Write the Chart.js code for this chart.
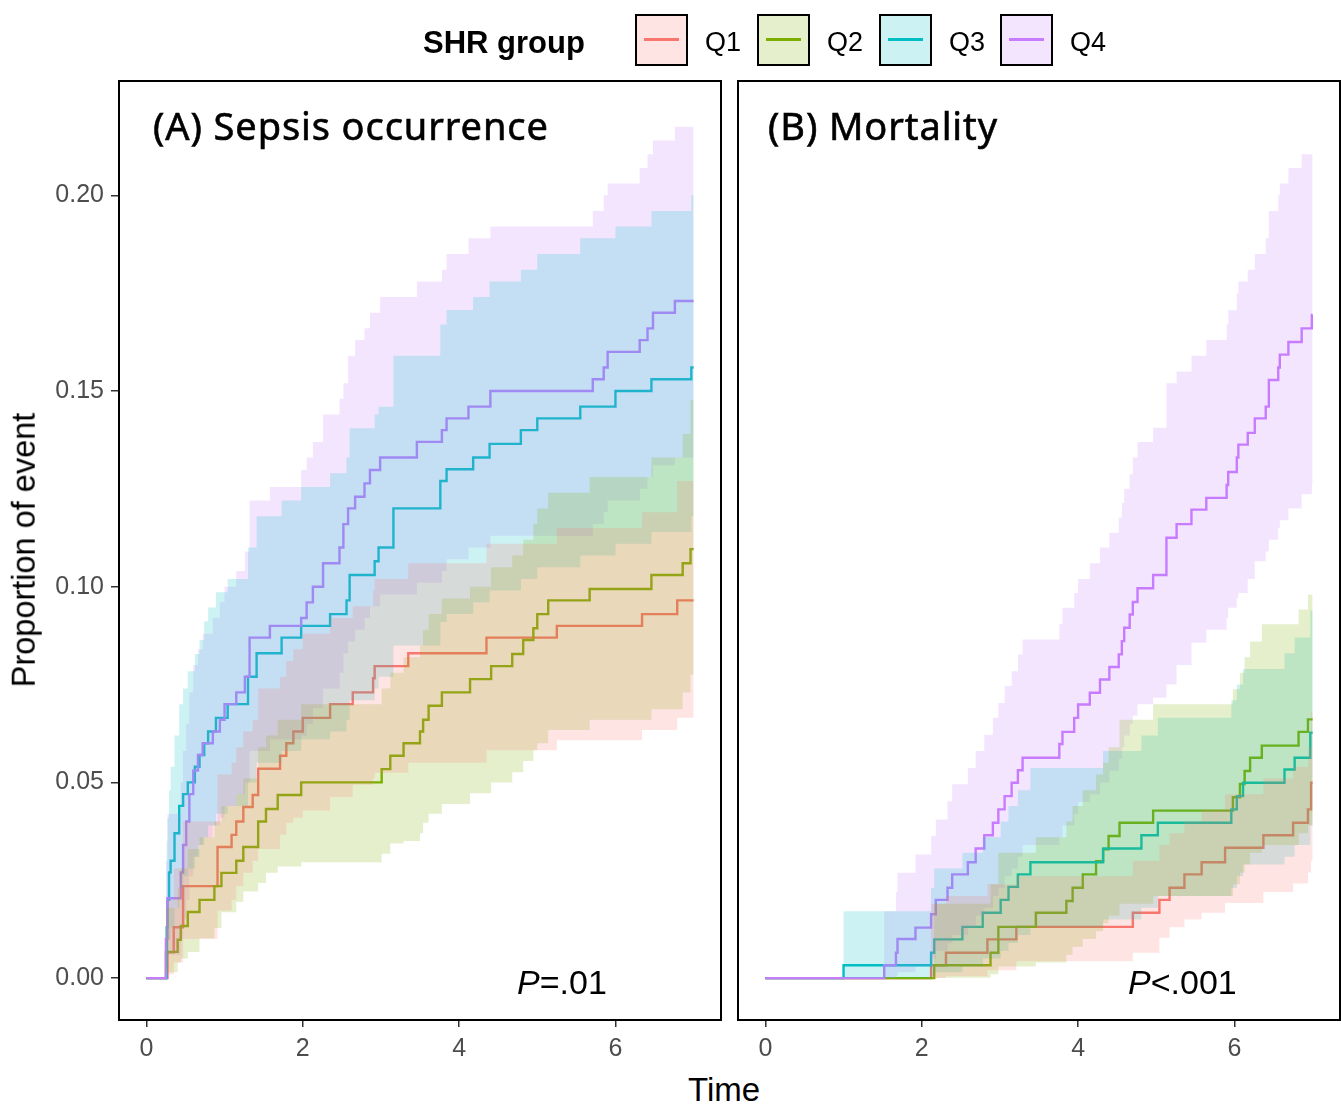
<!DOCTYPE html>
<html>
<head>
<meta charset="utf-8">
<script src="https://cdn.jsdelivr.net/npm/chart.js@4.4.1/dist/chart.umd.min.js"></script>
<style>
  body { margin: 0; background: #fff; width: 1341px; height: 1106px; position: relative; overflow: hidden;
         font-family: 'Liberation Sans', Arial, sans-serif; }
  canvas { position: absolute; }
  .txt { position: absolute; white-space: nowrap; line-height: 1; color: #000; }
  .title { font-family: 'Noto Sans', sans-serif; font-size: 38px; letter-spacing: 0.9px; -webkit-text-stroke: 0.6px #000; }
  .pval { font-size: 34px; }
  .key { position: absolute; top: 14px; width: 49px; height: 48px; border: 2.5px solid #000; }
  .key span { position: absolute; left: 7px; right: 7px; top: 22px; height: 3px; }
  .qlab { font-size: 27px; top: 29px; }
</style>
</head>
<body>

<canvas id="sepsisChart" width="723" height="1070" style="left:0;top:0"></canvas>
<canvas id="mortalityChart" width="618" height="1070" style="left:723px;top:0"></canvas>

<div class="txt" style="left:423px;top:27px;font-size:31px;font-weight:bold">SHR group</div>
<div class="key" style="left:635px;background:rgba(248,118,109,0.2)"><span style="background:#F8766D"></span></div>
<div class="txt qlab" style="left:705px">Q1</div>
<div class="key" style="left:757px;background:rgba(124,174,0,0.2)"><span style="background:#7CAE00"></span></div>
<div class="txt qlab" style="left:827px">Q2</div>
<div class="key" style="left:879px;background:rgba(0,191,196,0.2)"><span style="background:#00BFC4"></span></div>
<div class="txt qlab" style="left:949px">Q3</div>
<div class="key" style="left:1000px;background:rgba(199,124,255,0.2)"><span style="background:#C77CFF"></span></div>
<div class="txt qlab" style="left:1070px">Q4</div>

<div class="txt title" style="left:153px;top:106px">(A) Sepsis occurrence</div>
<div class="txt title" style="left:768px;top:106px">(B) Mortality</div>
<div class="txt pval" style="left:517px;top:965px"><i>P</i>=.01</div>
<div class="txt pval" style="left:1128px;top:965px"><i>P</i>&lt;.001</div>
<div class="txt" style="left:688px;top:1073px;font-size:33px">Time</div>
<div class="txt" style="left:24px;top:550px;font-size:32.5px;transform:translate(-50%,-50%) rotate(-90deg)">Proportion of event</div>

<script>
// tick positions / labels
const xTickValues = [0, 2, 4, 6];
const yTickValues = [0, 5, 10, 15, 20]; // percent
const yTickLabels = ['0.00', '0.05', '0.10', '0.15', '0.20'];
const endTime = 7;

const groupColors = ['#F8766D', '#7CAE00', '#00BFC4', '#C77CFF'];
const groupFills = ['rgba(248,118,109,0.2)', 'rgba(124,174,0,0.2)', 'rgba(0,191,196,0.2)', 'rgba(199,124,255,0.2)'];

// (A) Sepsis occurrence -- event times and cumulative proportion (%) with CI
const sepsisQ1Time = [0, 0.27, 0.35, 0.47, 0.91, 1.09, 1.15, 1.24, 1.36, 1.43, 1.71, 1.79, 1.88, 2.00, 2.35, 2.64, 2.90, 2.92, 3.35, 4.35, 5.25, 6.34, 6.79];
const sepsisQ1Pct  = [0, 0.66, 1.3, 2.35, 3.35, 3.66, 4.0, 4.37, 4.68, 5.35, 5.68, 6.0, 6.3, 6.65, 7.0, 7.3, 7.66, 7.97, 8.3, 8.7, 9.0, 9.3, 9.65];
const sepsisQ1Low  = [0, 0.1, 0.4, 1.0, 1.73, 2.0, 2.35, 2.69, 3.0, 3.3, 3.66, 3.97, 4.1, 4.28, 4.63, 4.94, 5.1, 5.25, 5.5, 5.82, 6.08, 6.34, 6.65];
const sepsisQ1High = [0, 2.0, 2.8, 4.0, 5.2, 5.5, 5.9, 6.3, 6.6, 7.4, 7.7, 8.1, 8.4, 8.8, 9.2, 9.5, 9.9, 10.2, 10.6, 11.1, 11.5, 11.9, 12.7];

const sepsisQ2Time = [0, 0.25, 0.40, 0.44, 0.53, 0.68, 0.87, 0.96, 1.15, 1.24, 1.43, 1.53, 1.68, 1.98, 3.01, 3.12, 3.29, 3.50, 3.54, 3.61, 3.78, 4.14, 4.41, 4.68, 4.82, 4.95, 5.00, 5.14, 5.67, 6.46, 6.86, 6.96];
const sepsisQ2Pct  = [0, 0.67, 0.98, 1.33, 1.69, 2.0, 2.35, 2.69, 3.0, 3.35, 4.0, 4.32, 4.68, 5.0, 5.34, 5.68, 6.0, 6.3, 6.6, 6.96, 7.3, 7.64, 7.97, 8.28, 8.64, 8.94, 9.3, 9.65, 9.94, 10.3, 10.6, 10.96];
const sepsisQ2Low  = [0, 0.15, 0.4, 0.5, 0.67, 1.02, 1.28, 1.68, 1.95, 2.21, 2.43, 2.69, 2.85, 2.96, 3.18, 3.44, 3.5, 3.7, 3.97, 4.2, 4.45, 4.72, 5.0, 5.26, 5.55, 5.82, 6.0, 6.34, 6.6, 6.87, 7.3, 7.75];
const sepsisQ2High = [0, 1.8, 2.3, 2.8, 3.3, 3.6, 4.0, 4.4, 4.7, 5.1, 5.9, 6.2, 6.6, 7.0, 7.4, 7.8, 8.2, 8.5, 8.9, 9.3, 9.7, 10.0, 10.5, 10.8, 11.2, 11.6, 12.0, 12.4, 12.8, 13.3, 13.9, 14.77];

const sepsisQ3Time = [0, 0.26, 0.27, 0.29, 0.31, 0.36, 0.42, 0.47, 0.53, 0.62, 0.68, 0.74, 0.79, 0.89, 1.04, 1.30, 1.41, 1.73, 1.98, 2.35, 2.56, 2.60, 2.92, 2.97, 3.16, 3.76, 3.84, 4.18, 4.39, 4.79, 5.00, 5.55, 6.00, 6.46, 6.97];
const sepsisQ3Pct  = [0, 1.3, 2.0, 2.7, 3.0, 3.7, 4.4, 4.7, 5.0, 5.4, 5.7, 6.0, 6.3, 6.65, 7.0, 7.7, 8.3, 8.7, 9.0, 9.3, 9.65, 10.3, 10.65, 11.0, 12.0, 12.7, 13.0, 13.3, 13.65, 14.0, 14.3, 14.6, 15.0, 15.3, 15.6];
const sepsisQ3Low  = [0, 0.2, 0.6, 1.0, 1.3, 1.8, 2.3, 2.6, 2.8, 3.1, 3.4, 3.6, 3.9, 4.2, 4.4, 5.0, 5.5, 5.8, 6.1, 6.3, 6.6, 7.1, 7.4, 7.7, 8.5, 9.1, 9.3, 9.6, 9.9, 10.2, 10.5, 10.8, 11.1, 11.4, 11.8];
const sepsisQ3High = [0, 3.5, 4.1, 4.8, 5.4, 6.2, 7.0, 7.4, 7.84, 8.28, 8.64, 9.12, 9.47, 9.86, 10.2, 11.0, 11.8, 12.2, 12.55, 12.9, 13.3, 14.05, 14.4, 14.6, 15.9, 16.7, 17.07, 17.4, 17.8, 18.1, 18.5, 18.9, 19.2, 19.6, 20.0];

const sepsisQ4Time = [0, 0.25, 0.27, 0.44, 0.47, 0.51, 0.55, 0.60, 0.66, 0.72, 0.85, 0.94, 1.00, 1.15, 1.26, 1.32, 1.58, 1.98, 2.05, 2.13, 2.26, 2.47, 2.52, 2.58, 2.67, 2.79, 2.86, 2.99, 3.46, 3.78, 3.84, 4.12, 4.40, 5.71, 5.85, 5.90, 6.31, 6.41, 6.48, 6.76];
const sepsisQ4Pct  = [0, 1.0, 2.04, 2.7, 3.4, 4.0, 4.7, 5.3, 5.7, 6.0, 6.3, 6.6, 7.0, 7.3, 7.7, 8.7, 9.0, 9.2, 9.6, 10.0, 10.6, 11.0, 11.6, 12.0, 12.3, 12.64, 12.98, 13.3, 13.7, 14.0, 14.3, 14.6, 15.0, 15.3, 15.6, 16.0, 16.3, 16.6, 17.0, 17.3];
const sepsisQ4Low  = [0, 0.1, 0.6, 1.0, 1.5, 2.0, 2.6, 3.1, 3.4, 3.6, 3.9, 4.1, 4.4, 4.7, 5.0, 5.8, 6.1, 6.2, 6.5, 6.9, 7.4, 7.8, 8.3, 8.6, 8.9, 9.2, 9.5, 9.8, 10.1, 10.4, 10.7, 11.0, 11.3, 11.6, 11.9, 12.2, 12.5, 12.8, 13.1, 13.3];
const sepsisQ4High = [0, 3.0, 4.2, 5.0, 5.8, 6.5, 7.3, 8.0, 8.4, 8.8, 9.2, 9.6, 10.0, 10.4, 10.9, 12.2, 12.55, 12.98, 13.3, 13.7, 14.4, 14.8, 15.2, 15.9, 16.3, 16.6, 17.0, 17.4, 17.8, 18.1, 18.5, 18.9, 19.2, 19.6, 20.0, 20.3, 20.7, 21.05, 21.4, 21.75];

// (B) Mortality
const deathQ1Time = [0, 2.12, 2.31, 2.84, 3.21, 4.70, 5.04, 5.17, 5.36, 5.58, 5.88, 6.37, 6.75, 6.94, 6.98];
const deathQ1Pct  = [0, 0.33, 0.65, 0.99, 1.31, 1.67, 2.0, 2.31, 2.65, 2.96, 3.33, 3.65, 3.97, 4.31, 4.99];
const deathQ1Low  = [0, 0, 0.05, 0.2, 0.43, 0.65, 1.03, 1.3, 1.5, 1.67, 1.92, 2.2, 2.42, 2.7, 3.0];
const deathQ1High = [0, 1.9, 2.1, 2.4, 2.6, 3.0, 3.4, 3.7, 4.0, 4.3, 4.7, 5.1, 5.4, 5.9, 6.8];

const deathQ2Time = [0, 2.16, 2.88, 2.98, 3.46, 3.85, 3.93, 4.06, 4.23, 4.32, 4.39, 4.53, 4.96, 5.98, 6.07, 6.13, 6.20, 6.35, 6.82, 6.94];
const deathQ2Pct  = [0, 0.33, 0.65, 1.31, 1.67, 1.97, 2.31, 2.65, 2.99, 3.29, 3.63, 3.97, 4.28, 4.62, 4.96, 5.29, 5.63, 5.94, 6.29, 6.61];
const deathQ2Low  = [0, 0.01, 0.1, 0.3, 0.4, 0.6, 0.8, 1.0, 1.2, 1.4, 1.6, 1.9, 2.1, 2.4, 2.7, 2.9, 3.2, 3.4, 3.7, 3.9];
const deathQ2High = [0, 1.9, 2.4, 3.2, 3.6, 4.0, 4.4, 4.8, 5.2, 5.5, 5.9, 6.6, 7.0, 7.38, 7.8, 8.2, 8.6, 9.04, 9.42, 9.8];

const deathQ3Time = [0, 1.00, 2.12, 2.16, 2.52, 2.78, 3.01, 3.11, 3.23, 3.39, 4.32, 4.81, 5.02, 5.96, 6.03, 6.11, 6.64, 6.77, 6.97];
const deathQ3Pct  = [0, 0.33, 0.65, 0.99, 1.31, 1.67, 2.0, 2.33, 2.65, 2.96, 3.31, 3.65, 3.97, 4.31, 4.65, 4.99, 5.33, 5.63, 6.27];
const deathQ3Low  = [0, 0, 0.05, 0.15, 0.3, 0.5, 0.7, 0.9, 1.1, 1.3, 1.5, 1.8, 2.1, 2.3, 2.6, 2.9, 3.1, 3.4, 3.9];
const deathQ3High = [0, 1.71, 2.3, 2.8, 3.2, 3.6, 4.0, 4.4, 4.8, 5.37, 5.8, 6.2, 6.65, 7.1, 7.5, 7.9, 8.3, 8.7, 9.4];

const deathQ4Time = [0, 1.52, 1.67, 1.69, 1.92, 2.12, 2.18, 2.33, 2.39, 2.59, 2.69, 2.80, 2.91, 2.98, 3.06, 3.15, 3.23, 3.29, 3.76, 3.80, 3.95, 4.00, 4.15, 4.28, 4.40, 4.52, 4.56, 4.59, 4.66, 4.70, 4.76, 4.96, 5.13, 5.26, 5.45, 5.64, 5.90, 5.92, 6.03, 6.05, 6.17, 6.26, 6.40, 6.44, 6.56, 6.58, 6.69, 6.86, 6.99];
const deathQ4Pct  = [0, 0.33, 0.65, 1.0, 1.29, 1.63, 2.0, 2.31, 2.65, 2.96, 3.31, 3.65, 3.97, 4.31, 4.65, 4.99, 5.31, 5.63, 5.98, 6.29, 6.65, 6.99, 7.29, 7.63, 7.95, 8.27, 8.61, 8.95, 9.29, 9.61, 9.96, 10.3, 11.25, 11.6, 11.97, 12.27, 12.6, 12.93, 13.3, 13.63, 13.93, 14.3, 14.6, 15.28, 15.6, 15.93, 16.25, 16.6, 16.94];
const deathQ4Low  = [0, 0, 0.05, 0.15, 0.3, 0.5, 0.7, 0.9, 1.1, 1.3, 1.6, 1.8, 2.1, 2.3, 2.6, 2.8, 3.1, 3.4, 3.6, 3.9, 4.2, 4.5, 4.7, 5.0, 5.3, 5.6, 5.9, 6.2, 6.5, 6.7, 7.0, 7.16, 7.5, 8.0, 8.57, 8.9, 9.2, 9.46, 9.7, 9.84, 10.2, 10.65, 10.9, 11.2, 11.5, 11.7, 12.0, 12.36, 12.6];
const deathQ4High = [0, 1.71, 2.2, 2.69, 3.16, 3.63, 4.05, 4.52, 4.95, 5.37, 5.8, 6.22, 6.65, 7.03, 7.46, 7.84, 8.27, 8.65, 9.05, 9.46, 9.84, 10.2, 10.6, 11.0, 11.38, 11.76, 12.14, 12.5, 12.87, 13.3, 13.7, 14.06, 15.2, 15.5, 15.9, 16.3, 16.7, 17.06, 17.5, 17.8, 18.1, 18.5, 18.9, 19.6, 20.0, 20.3, 20.7, 21.05, 21.05];

const sepsisSeries = [
  { t: sepsisQ1Time, e: sepsisQ1Pct, lo: sepsisQ1Low, hi: sepsisQ1High },
  { t: sepsisQ2Time, e: sepsisQ2Pct, lo: sepsisQ2Low, hi: sepsisQ2High },
  { t: sepsisQ3Time, e: sepsisQ3Pct, lo: sepsisQ3Low, hi: sepsisQ3High },
  { t: sepsisQ4Time, e: sepsisQ4Pct, lo: sepsisQ4Low, hi: sepsisQ4High }
];
const deathSeries = [
  { t: deathQ1Time, e: deathQ1Pct, lo: deathQ1Low, hi: deathQ1High },
  { t: deathQ2Time, e: deathQ2Pct, lo: deathQ2Low, hi: deathQ2High },
  { t: deathQ3Time, e: deathQ3Pct, lo: deathQ3Low, hi: deathQ3High },
  { t: deathQ4Time, e: deathQ4Pct, lo: deathQ4Low, hi: deathQ4High }
];

// points for a step curve, held flat to the end of follow-up
function steps(times, values) {
  const pts = times.map((x, i) => ({ x: x, y: values[i] }));
  pts.push({ x: endTime, y: values[values.length - 1] });
  return pts;
}

function buildDatasets(series) {
  const bands = [];
  const lines = [];
  series.forEach((s, g) => {
    bands.push({ data: steps(s.t, s.hi), stepped: true, borderWidth: 0, pointRadius: 0,
                 fill: '+1', backgroundColor: groupFills[g], order: 0 });
    bands.push({ data: steps(s.t, s.lo), stepped: true, borderWidth: 0, pointRadius: 0,
                 fill: false, order: 0 });
    // lines sit under the ribbons, Q4 drawn last
    lines.push({ data: steps(s.t, s.e), stepped: true, borderColor: groupColors[g], borderWidth: 2.4,
                 pointRadius: 0, fill: false, order: 13 - g });
  });
  return bands.concat(lines);
}

const panelBox = {
  id: 'panelBox',
  afterDraw(chart) {
    const a = chart.chartArea, c = chart.ctx;
    c.save();
    c.strokeStyle = '#000';
    c.lineWidth = 2;
    c.strokeRect(a.left, a.top, a.right - a.left, a.bottom - a.top);
    c.restore();
  }
};

const tickFont = { family: "'Liberation Sans', Arial, sans-serif", size: 25 };

function makeOptions(showY, padding) {
  return {
    responsive: false,
    animation: false,
    devicePixelRatio: 1,
    events: [],
    layout: { padding: padding },
    plugins: { legend: { display: false }, tooltip: { enabled: false } },
    scales: {
      x: {
        type: 'linear', min: -0.35, max: 7.35,
        afterBuildTicks: s => { s.ticks = xTickValues.map(v => ({ value: v })); },
        afterFit: s => { s.height = 50; },
        ticks: { color: '#4D4D4D', font: tickFont, padding: 7, maxRotation: 0, autoSkip: false,
                 callback: v => String(v) },
        grid: { drawOnChartArea: false, tickLength: 7, color: '#333333', lineWidth: 1.5 },
        border: { display: false }
      },
      y: {
        type: 'linear', display: showY, min: -1.07, max: 22.92,
        afterBuildTicks: s => { s.ticks = yTickValues.map(v => ({ value: v })); },
        afterFit: s => { s.width = showY ? 119 : 0; },
        ticks: { color: '#4D4D4D', font: tickFont, padding: 7, callback: (v, i) => yTickLabels[i] },
        grid: { drawOnChartArea: false, tickLength: 8, color: '#333333', lineWidth: 1.5 },
        border: { display: false }
      }
    }
  };
}

new Chart(document.getElementById('sepsisChart'), {
  type: 'line',
  data: { datasets: buildDatasets(sepsisSeries) },
  options: makeOptions(true, { top: 81, right: 2, left: 0, bottom: 0 }),
  plugins: [panelBox]
});

new Chart(document.getElementById('mortalityChart'), {
  type: 'line',
  data: { datasets: buildDatasets(deathSeries) },
  options: makeOptions(false, { top: 81, right: 1, left: 15, bottom: 0 }),
  plugins: [panelBox]
});
</script>
</body>
</html>
